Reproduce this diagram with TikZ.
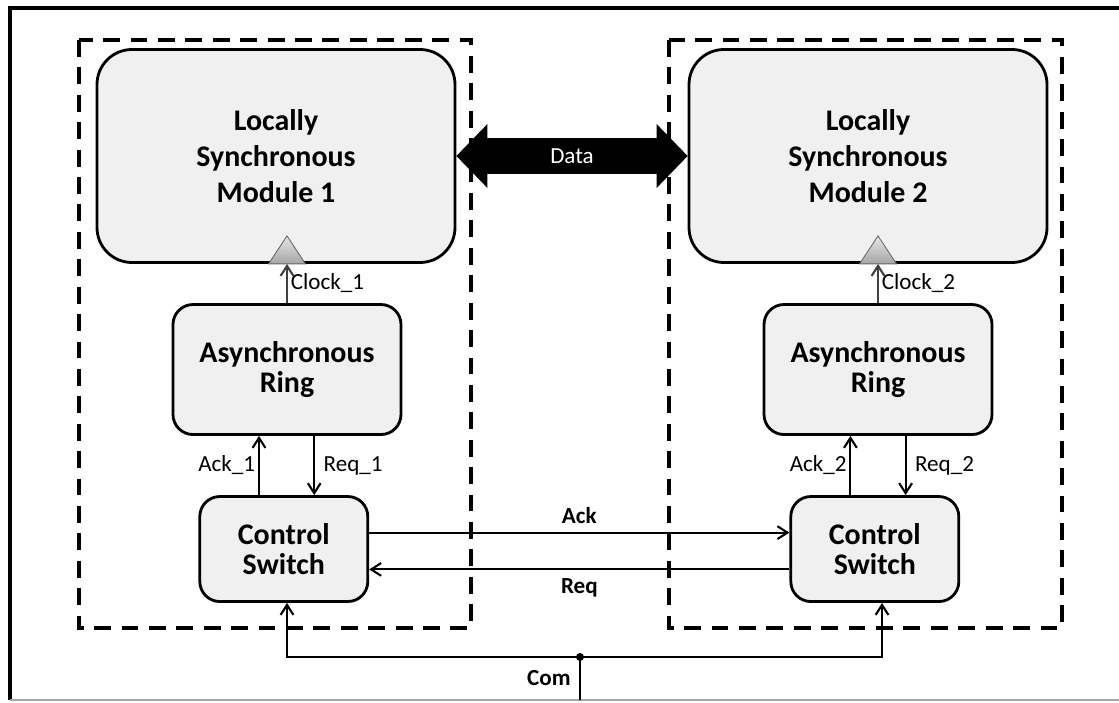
\documentclass[tikz,border=0pt]{standalone}
\usepackage{fontspec}
\setmainfont{Carlito}
\usetikzlibrary{arrows.meta, positioning, calc}
\tikzset{
  block/.style={
    rectangle, draw, line width=2pt, fill=black!6,
    align=center, rounded corners=0.5cm,
    font=\fontsize{21.3}{21.5}\selectfont\bfseries
  },
  module/.style={
    block, minimum width=8.95cm, minimum height=5.325cm,
    rounded corners=0.875cm,
    font=\fontsize{21.3}{25.6}\selectfont\bfseries
  },
  ring/.style={block, minimum width=5.7cm, minimum height=3.25cm},
  switch/.style={block, minimum width=4.2cm, minimum height=2.625cm},
  line/.style={draw, line width=1.5pt, -{Straight Barb[length=2.5mm, width=3.2mm]}},
  clock line/.style={line, draw=black!75},
  clock tri/.style={draw=black!60, line width=0.6pt, top color=black!10, bottom color=black!35},
  group/.style={draw, line width=2.6pt, dash pattern=on 12pt off 7.5pt},
  data arrow/.style={
    draw, line width=0.9cm,
    {Triangle[length=0.775cm, width=1.6cm, line width=0pt]}-{Triangle[length=0.775cm, width=1.6cm, line width=0pt]}
  },
  lbl/.style={font=\fontsize{16.4}{19}\selectfont, inner sep=2pt},
  bold lbl/.style={lbl, font=\fontsize{16.4}{19}\selectfont\bfseries},
}

\begin{document}
\begin{tikzpicture}[node distance=0.98cm and 5.78cm]
  \useasboundingbox (0,0) rectangle (27.975,-17.55);
  % Frame
  \draw[line width=2.5pt] (27.975,-0.2) -- (0.25,-0.2) -- (0.25,-17.5);
  \draw[black!35, line width=0.8pt] (0.25,-17.5) -- (27.975,-17.5);
  \draw[group] (1.975,-1.0) rectangle (11.775,-15.7);
  \draw[group] (16.725,-1.0) rectangle (26.55,-15.7);

  % Blocks
  \node[module] (lsm1) at (6.9,-3.9) {Locally\\Synchronous\\Module 1};
  \node[module, right=of lsm1] (lsm2) {Locally\\Synchronous\\Module 2};

  \node[ring, below=of lsm1, xshift=0.275cm] (ring1) {Asynchronous\\Ring};
  \node[ring, below=of lsm2, xshift=0.25cm] (ring2) {Asynchronous\\Ring};

  \node[switch, below=1.48cm of ring1, xshift=-0.08cm] (cs1) {Control\\Switch};
  \node[switch, below=1.48cm of ring2, xshift=-0.08cm] (cs2) {Control\\Switch};

  \coordinate (clk1) at (ring1.north |- lsm1.south);
  \coordinate (clk2) at (ring2.north |- lsm2.south);
  \coordinate (com) at (14.5,-16.425);
  \coordinate (comout) at (14.5,-17.5);

  % Data
  \draw[data arrow] (lsm1.east) -- (lsm2.west)
    node[midway, text=white, lbl] {Data};

  % Clocks
  \draw[clock line] (ring1.north) -- (clk1) node[midway, right, lbl] {Clock\_1};
  \draw[clock line] (ring2.north) -- (clk2) node[midway, right, lbl] {Clock\_2};
  \path[clock tri] ($(clk1)+(-0.4625,0)$) -- ++(0.4625,0.7) -- ++(0.4625,-0.7) -- cycle;
  \path[clock tri] ($(clk2)+(-0.4625,0)$) -- ++(0.4625,0.7) -- ++(0.4625,-0.7) -- cycle;

  % Handshake
  \coordinate (a1) at ($(ring1.south)+(-0.7,0)$);
  \coordinate (r1) at ($(ring1.south)+(0.68,0)$);
  \coordinate (a2) at ($(ring2.south)+(-0.69,0)$);
  \coordinate (r2) at ($(ring2.south)+(0.69,0)$);
  \draw[line] (a1 |- cs1.north) -- (a1) node[midway, left, lbl] {Ack\_1};
  \draw[line] (r1) -- (r1 |- cs1.north) node[midway, right=0.14cm, lbl] {Req\_1};
  \draw[line] (a2 |- cs2.north) -- (a2) node[midway, left, lbl] {Ack\_2};
  \draw[line] (r2) -- (r2 |- cs2.north) node[midway, right=0.14cm, lbl] {Req\_2};

  \draw[line] ([yshift=0.41cm]cs1.east) -- ([yshift=0.41cm]cs2.west)
    node[midway, above=0.12cm, bold lbl] {Ack};
  \draw[line] ([yshift=-0.51cm]cs2.west) -- ([yshift=-0.51cm]cs1.east)
    node[midway, below=0.12cm, bold lbl] {Req};

  % Com
  \draw[line] (com) -| ([xshift=0.08cm]cs1.south);
  \draw[line] (com) -| ([xshift=0.18cm]cs2.south);
  \draw[line width=1.5pt] (com) -- (comout) node[midway, left=0.14cm, bold lbl] {Com};
  \fill (com) circle (0.1cm);
\end{tikzpicture}
\end{document}
